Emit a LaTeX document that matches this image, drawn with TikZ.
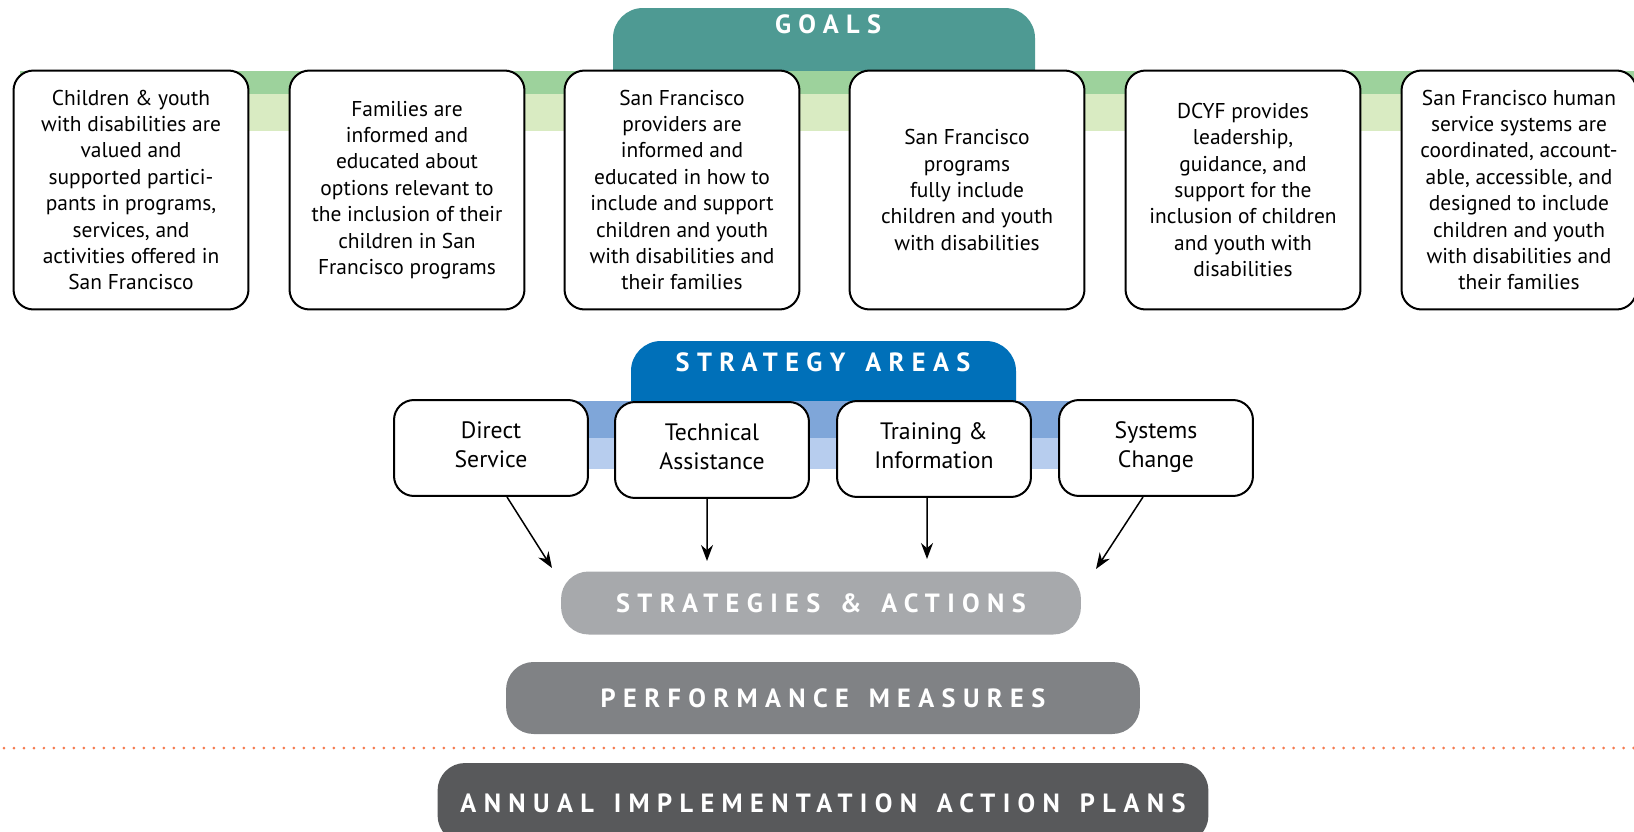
\documentclass[tikz,border=0pt]{standalone}
\usepackage{fontspec}
\setmainfont{PT Sans}
\newfontfamily\headfont[LetterSpace=28]{PT Sans}
\usetikzlibrary{arrows.meta, positioning}

\definecolor{goalteal}{HTML}{4E9A93}
\definecolor{greendark}{HTML}{9DD29C}
\definecolor{greenlight}{HTML}{D9EBC2}
\definecolor{areablue}{HTML}{0070B9}
\definecolor{bluedark}{HTML}{7FA6D9}
\definecolor{bluelight}{HTML}{B7CDEE}
\definecolor{graylight}{HTML}{A7A9AC}
\definecolor{graymid}{HTML}{808285}
\definecolor{graydark}{HTML}{58595B}
\definecolor{dotorange}{HTML}{F47A4F}

\newcommand{\wgap}{\hspace{0.22em}}

\tikzset{
  goal/.style = {draw, line width=0.04cm, fill=white, rounded corners=0.4cm,
                 minimum width=4.7cm, minimum height=4.78cm, align=center,
                 inner sep=0pt, font=\fontsize{12.2}{15}\selectfont},
  area/.style = {draw, line width=0.04cm, fill=white, rounded corners=0.4cm,
                 minimum width=3.88cm, minimum height=1.92cm, align=center,
                 inner sep=0pt, font=\fontsize{13.5}{16.5}\selectfont},
  bar/.style  = {rounded corners=0.55cm, inner sep=0pt, text=white,
                 font=\headfont\bfseries\fontsize{15}{18}\selectfont},
  head/.style = {text=white, inner sep=0pt,
                 font=\headfont\bfseries\fontsize{15}{18}\selectfont}
}

\begin{document}
\begin{tikzpicture}[x=0.02cm, y=-0.02cm]
    \useasboundingbox (0,0) rectangle (1634,832);

    % goals header and band
    \fill [goalteal, rounded corners=0.6cm] (613,8) rectangle (1035,110);
    \node (goals) [head] at (828,24) {GOALS};
    \fill [greendark] (20,71) rectangle (1634,94);
    \fill [greenlight] (20,94) rectangle (1634,131);

    \node (g1) [goal] at (131,190) {Children \& youth\\with disabilities are\\valued and\\supported partici-\\pants in programs,\\services, and\\activities offered in\\San Francisco};
    \node (g2) [goal] at (407,190) {Families are\\informed and\\educated about\\options relevant to\\the inclusion of their\\children in San\\Francisco programs};
    \node (g3) [goal] at (682,190) {San Francisco\\providers are\\informed and\\educated in how to\\include and support\\children and youth\\with disabilities and\\their families};
    \node (g4) [goal] at (967,190) {San Francisco\\programs\\fully include\\children and youth\\with disabilities};
    \node (g5) [goal] at (1243,190) {DCYF provides\\leadership,\\guidance, and\\support for the\\inclusion of children\\and youth with\\disabilities};
    \node (g6) [goal] at (1519,190) {San Francisco human\\service systems are\\coordinated, account-\\able, accessible, and\\designed to include\\children and youth\\with disabilities and\\their families};

    % strategy areas header and band
    \fill [areablue, rounded corners=0.6cm] (631,341) rectangle (1016,430);
    \node (areas) [head] at (823,362) {STRATEGY\wgap{} AREAS};
    \fill [bluedark] (570,401) rectangle (1070,438);
    \fill [bluelight] (570,438) rectangle (1070,469);

    \node (ds) [area] at (491,448) {Direct\\Service\vphantom{g}\\[-13pt]};
    \node (ta) [area] at (712,450) {Technical\\Assistance\\[-13pt]};
    \node (ti) [area] at (934,449) {Training \&\\Information\\[-13pt]};
    \node (sc) [area] at (1156,448) {Systems\\Change\\[-13pt]};

    \node (sa) [bar, fill=graylight, minimum width=10.4cm, minimum height=1.26cm] at (821,603) {STRATEGIES\wgap{} \&\wgap{} ACTIONS};
    \node (pm) [bar, fill=graymid, minimum width=12.68cm, minimum height=1.44cm] at (823,698) {PERFORMANCE\wgap{} MEASURES};
    \node (ap) [bar, fill=graydark, minimum width=15.42cm, minimum height=1.6cm] at (823,803) {ANNUAL\wgap{} IMPLEMENTATION\wgap{} ACTION\wgap{} PLANS};

    \coordinate (dsend) at (552,568);
    \coordinate (taend) at (707,561);
    \coordinate (tiend) at (927,559);
    \coordinate (scend) at (1096,569);

    \path [-{Stealth[length=0.32cm, width=0.24cm]}, line width=0.03cm]
        ([xshift=0.32cm]ds.south) edge (dsend)
        ([xshift=-0.1cm]ta.south) edge (taend)
        ([xshift=-0.14cm]ti.south) edge (tiend)
        ([xshift=-0.26cm]sc.south) edge (scend);

    % divider
    \draw [dotorange, line width=0.06cm, line cap=round, dash pattern=on 0pt off 0.2cm] (4,748) -- (1634,748);
\end{tikzpicture}
\end{document}
